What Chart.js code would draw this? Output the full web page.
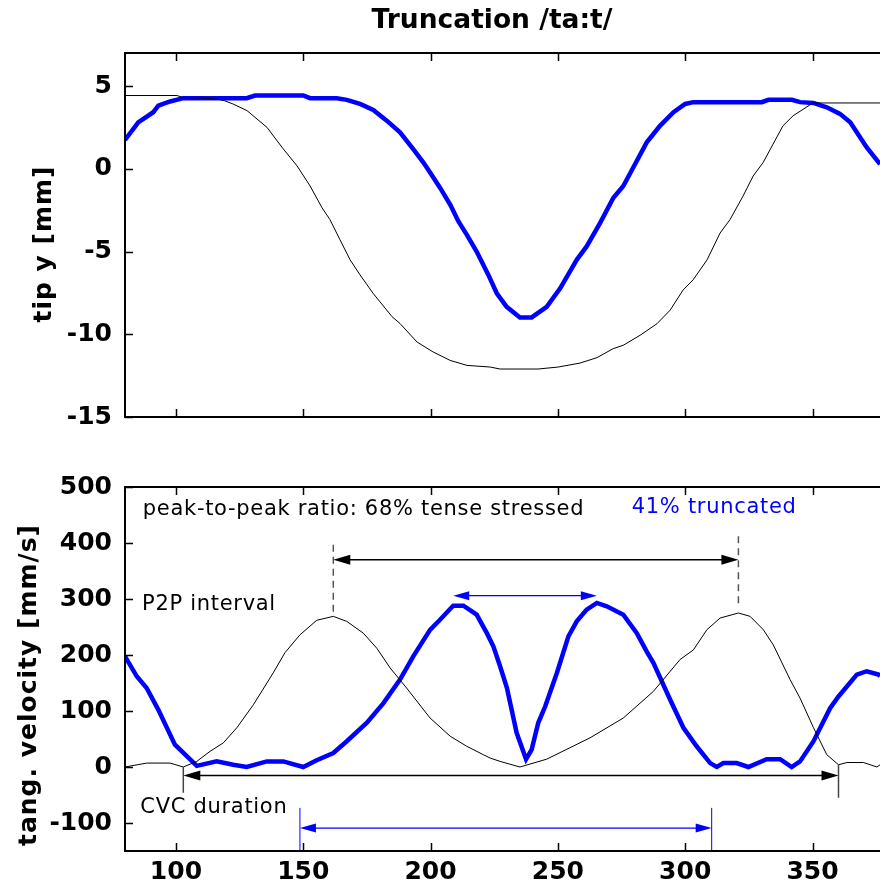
<!DOCTYPE html>
<html>
<head>
<meta charset="utf-8">
<script src="https://cdn.jsdelivr.net/npm/chart.js@4.4.1/dist/chart.umd.min.js"></script>
<style>
  html, body { margin: 0; padding: 0; background: #fff; }
  #wrap { position: relative; width: 880px; height: 890px; }
  canvas { position: absolute; left: 0; }
  #c1 { top: 0; }
  #c2 { top: 440px; }
</style>
</head>
<body>
<div id="wrap">
  <canvas id="c1" width="880" height="440"></canvas>
  <canvas id="c2" width="880" height="450"></canvas>
</div>
<script>
// ---- tick labels ----
const xTicks = [100, 150, 200, 250, 300, 350];
const yTicksTip = [-15, -10, -5, 0, 5];
const yTicksVel = [-100, 0, 100, 200, 300, 400, 500];

// ---- tip y [mm], tense stressed (thin black) ----
const xTipTense = [80, 100.4, 103, 110, 116, 119, 122.4, 127.9, 135.8, 141.7, 147.6, 152.7, 157.4, 160.5, 164.4,
  168.4, 172.3, 177.4, 184.9, 188, 194.7, 201, 207.7, 214.3, 223.4, 227.3, 242.2, 250.1, 258.7, 265.4,
  271.7, 275.6, 282.3, 289, 294.1, 299.2, 303.1, 308.6, 313.7, 317.6, 322.7, 326.7, 330.6, 334.5, 338.4,
  342.4, 350.2, 376.5];
const yTipTense = [4.43, 4.43, 4.3, 4.27, 4.22, 4.12, 3.92, 3.52, 2.5, 1.29, 0.17, -1.04, -2.36, -3.07, -4.28,
  -5.5, -6.41, -7.52, -8.94, -9.35, -10.47, -11.07, -11.58, -11.88, -11.98, -12.1, -12.1, -11.98, -11.74, -11.41,
  -10.87, -10.67, -10.06, -9.35, -8.54, -7.32, -6.71, -5.5, -3.88, -3.07, -1.65, -0.43, 0.38, 1.49, 2.6,
  3.21, 3.98, 3.98];

// ---- tip y [mm], truncated (thick blue) ----
const xTipTrunc = [80, 85.2, 91.1, 93.1, 97.7, 102.9, 127.8, 131.1, 150, 152.7, 163.2, 167.1, 172.3, 177.5,
  182.8, 188, 193.2, 197.2, 201.1, 203.7, 207.7, 210.9, 214.2, 218.1, 222.7, 226, 229.9, 235.1, 239.7,
  245.6, 250.9, 257.4, 261.3, 266.6, 271.8, 275.7, 279.6, 284.9, 290.1, 295.4, 300, 303.2, 330.1, 332.7,
  341.9, 345.1, 350.3, 355.6, 360.8, 364.8, 371.3, 376.5];
const yTipTrunc = [1.75, 2.81, 3.42, 3.82, 4.07, 4.27, 4.27, 4.43, 4.43, 4.27, 4.27, 4.17, 3.92, 3.56,
  2.91, 2.2, 1.19, 0.38, -0.53, -1.14, -2.16, -3.17, -3.98, -5.0, -6.41, -7.52, -8.34, -8.98, -8.98,
  -8.34, -7.22, -5.5, -4.69, -3.27, -1.75, -1.04, 0.08, 1.6, 2.6, 3.42, 3.92, 4.03, 4.03, 4.17,
  4.17, 4.03, 3.98, 3.72, 3.32, 2.81, 1.29, 0.28];

// ---- tang. velocity [mm/s], tense stressed (thin black) ----
const xVelTense = [80, 88.5, 97.7, 102.9, 108.2, 113.4, 118.6, 123.9, 130.4, 138.2, 142.8, 148.7, 155.3, 161.8,
  167.1, 173.6, 178.9, 184.1, 190.6, 199.8, 207.7, 214.2, 220.7, 223.4, 227.3, 235.1, 245.6, 262.6, 275.7,
  287.5, 298, 303.2, 308.5, 313.7, 320.9, 325.5, 330.7, 334.6, 341.2, 345.1, 350.4, 355.6, 360.2, 363.5,
  370, 375.3, 376.5];
const yVelTense = [0, 7, 7, 0, 10, 28, 43, 70, 111, 168, 204, 236, 262, 269,
  260, 239, 212, 177, 141, 87.5, 55, 37, 22, 16, 10, 0, 14, 52, 87.5,
  135, 192, 209, 245, 266, 275, 269, 245, 218, 156, 123, 70, 22, 4, 8,
  8, 0, 4];

// ---- tang. velocity [mm/s], truncated (thick blue) ----
const xVelTrunc = [80, 84.6, 88.5, 93.1, 99.6, 108.2, 116, 122.5, 127.8, 135.7, 142.2, 150, 155.3, 161.8,
  167.1, 175, 181.5, 188, 193.2, 199.8, 203.7, 208.9, 212.9, 218.1, 222.1, 224.7, 227.3, 230, 233.8,
  237.5, 239.7, 242.3, 245, 249.6, 254.1, 257.4, 261.3, 265.3, 269.2, 275.7, 281, 284.9, 287.5, 294.1,
  299.3, 304.5, 309.8, 312.4, 315, 320.2, 324.8, 332, 337.3, 341.8, 345.1, 350.4, 356.9, 360.2, 367.4,
  371.3, 375.9, 376.5];
const yVelTrunc = [197.5, 162, 141, 102, 40, 2, 10, 4, 0, 10, 10, 0, 12, 25,
  46, 79, 114, 156, 197.5, 245, 263, 288, 288, 272, 239, 215, 180, 141, 61,
  14, 31, 79, 108, 168, 233, 260, 281, 293, 287, 272, 239, 206, 186, 120,
  70, 37, 7, 0, 7, 7, 0, 14, 14, 0, 10, 46, 105, 126, 165,
  171, 165, 162];

// ---- annotation values (data units) ----
const p2pTenseX = [161.8, 320.9];
const p2pTenseLevel = 370;
const p2pDashTop = [397, 412];
const p2pDashBottom = [269, 284];
const p2pTruncX = [208.9, 265.3];
const p2pTruncLevel = 306;
const cvcTenseX = [102.9, 360.2];
const cvcTenseLevel = -15;
const cvcTenseTickTop = [0, 4];
const cvcTenseTickBottom = [-46, -55];
const cvcTruncX = [148.7, 310.4];
const cvcTruncLevel = -109;
const cvcTruncTickTop = -73;

const BLUE = '#0000ff';
Chart.defaults.font.family = "'DejaVu Sans', sans-serif";
Chart.defaults.color = '#000';

function pts(xs, ys) {
  return xs.map((x, i) => ({ x: x, y: ys[i] }));
}

// MATLAB-like box with inward ticks, title and y label
const boxPlugin = {
  id: 'box',
  afterDraw(chart, args, opts) {
    const { ctx, chartArea: a, scales: { x, y } } = chart;
    ctx.save();
    ctx.strokeStyle = '#000';
    ctx.lineWidth = 2;
    ctx.beginPath();
    ctx.moveTo(a.right, a.top);
    ctx.lineTo(a.left, a.top);
    ctx.lineTo(a.left, a.bottom);
    ctx.lineTo(a.right, a.bottom);
    ctx.stroke();
    ctx.lineWidth = 1.5;
    ctx.beginPath();
    opts.xTicks.forEach(v => {
      const px = Math.round(x.getPixelForValue(v)) + 0.5;
      ctx.moveTo(px, a.top); ctx.lineTo(px, a.top + 8);
      ctx.moveTo(px, a.bottom); ctx.lineTo(px, a.bottom - 8);
    });
    opts.yTicks.forEach(v => {
      const py = Math.round(y.getPixelForValue(v)) + 0.5;
      ctx.moveTo(a.left, py); ctx.lineTo(a.left + 8, py);
    });
    ctx.stroke();

    ctx.fillStyle = '#000';
    ctx.textAlign = 'center';
    ctx.textBaseline = 'middle';
    ctx.letterSpacing = '1px';
    ctx.font = "bold 25px 'DejaVu Sans'";
    ctx.save();
    ctx.translate(opts.yTitleX, (a.top + a.bottom) / 2 + opts.yTitleShift);
    ctx.rotate(-Math.PI / 2);
    ctx.fillText(opts.yTitle, 0, 0);
    ctx.restore();
    if (opts.title) {
      ctx.letterSpacing = '0px';
      ctx.font = "bold 26.5px 'DejaVu Sans'";
      ctx.fillText(opts.title, a.left + 367, 21);
    }
    ctx.restore();
  }
};

function arrow(ctx, x1, x2, y, color, lw, len, half) {
  ctx.strokeStyle = color;
  ctx.fillStyle = color;
  ctx.lineWidth = lw;
  ctx.beginPath();
  ctx.moveTo(x1 + len / 2, y);
  ctx.lineTo(x2 - len / 2, y);
  ctx.stroke();
  ctx.beginPath();
  ctx.moveTo(x1, y); ctx.lineTo(x1 + len, y - half); ctx.lineTo(x1 + len, y + half); ctx.closePath();
  ctx.moveTo(x2, y); ctx.lineTo(x2 - len, y - half); ctx.lineTo(x2 - len, y + half); ctx.closePath();
  ctx.fill();
}

const notesPlugin = {
  id: 'notes',
  afterDatasetsDraw(chart) {
    const { ctx, scales: { x, y } } = chart;
    const X = v => x.getPixelForValue(v);
    const Y = v => y.getPixelForValue(v);
    ctx.save();

    // dashed markers at the tense peaks
    ctx.strokeStyle = '#555';
    ctx.lineWidth = 1.5;
    ctx.setLineDash([7, 5]);
    ctx.beginPath();
    p2pTenseX.forEach((v, i) => {
      ctx.moveTo(X(v), Y(p2pDashTop[i]));
      ctx.lineTo(X(v), Y(p2pDashBottom[i]));
    });
    ctx.stroke();
    ctx.setLineDash([]);

    // CVC end markers
    ctx.strokeStyle = '#444';
    ctx.lineWidth = 1.5;
    ctx.beginPath();
    cvcTenseX.forEach((v, i) => {
      ctx.moveTo(X(v), Y(cvcTenseTickTop[i]));
      ctx.lineTo(X(v), Y(cvcTenseTickBottom[i]));
    });
    ctx.stroke();
    ctx.strokeStyle = BLUE;
    ctx.lineWidth = 1;
    ctx.beginPath();
    cvcTruncX.forEach(v => {
      ctx.moveTo(X(v), Y(cvcTruncTickTop));
      ctx.lineTo(X(v), chart.chartArea.bottom);
    });
    ctx.stroke();

    arrow(ctx, X(p2pTenseX[0]), X(p2pTenseX[1]), Y(p2pTenseLevel), '#000', 1.5, 17, 5);
    arrow(ctx, X(p2pTruncX[0]), X(p2pTruncX[1]), Y(p2pTruncLevel), BLUE, 1.2, 16, 4.5);
    arrow(ctx, X(cvcTenseX[0]), X(cvcTenseX[1]), Y(cvcTenseLevel), '#000', 1.5, 17, 5);
    arrow(ctx, X(cvcTruncX[0]), X(cvcTruncX[1]), Y(cvcTruncLevel), BLUE, 1.2, 16, 4.5);

    ctx.font = "21px 'DejaVu Sans'";
    ctx.letterSpacing = '0.7px';
    ctx.textAlign = 'left';
    ctx.textBaseline = 'alphabetic';
    ctx.fillStyle = '#000';
    ctx.fillText('peak-to-peak ratio: 68% tense stressed', X(87), Y(450.5));
    ctx.fillText('P2P interval', X(86.7), Y(281));
    ctx.fillText('CVC duration', X(86), Y(-83));
    ctx.fillStyle = BLUE;
    ctx.fillText('41% truncated', X(279), Y(453.6));
    ctx.restore();
  }
};

function yScale(min, max, ticks) {
  return {
    type: 'linear',
    min: min,
    max: max,
    grid: { display: false, drawTicks: false },
    border: { display: false },
    ticks: { font: { size: 25, weight: 'bold' }, padding: 13, color: '#000' },
    afterBuildTicks: s => { s.ticks = ticks.map(v => ({ value: v })); },
    afterFit: s => { s.width = 125; s.paddingTop = 0; s.paddingBottom = 0; }
  };
}

function xScale(showLabels, height) {
  return {
    type: 'linear',
    min: 80,
    max: 376.5,
    grid: { display: false, drawTicks: false },
    border: { display: false },
    ticks: { display: showLabels, font: { size: 25, weight: 'bold' }, padding: 6, maxRotation: 0, color: '#000' },
    afterBuildTicks: s => { s.ticks = xTicks.map(v => ({ value: v })); },
    afterFit: s => { s.height = height; s.paddingLeft = 0; s.paddingRight = 0; }
  };
}

const baseOpts = {
  responsive: false,
  animation: false,
  events: [],
  elements: { point: { radius: 0 }, line: { tension: 0 } }
};

new Chart(document.getElementById('c1'), {
  type: 'line',
  data: {
    datasets: [
      { data: pts(xTipTense, yTipTense), borderColor: '#000', borderWidth: 1 },
      { data: pts(xTipTrunc, yTipTrunc), borderColor: BLUE, borderWidth: 4.5 }
    ]
  },
  options: Object.assign({}, baseOpts, {
    layout: { padding: { left: 0, right: 0, top: 53, bottom: 0 } },
    scales: {
      x: xScale(false, 23),
      y: yScale(-15, 7, yTicksTip)
    },
    plugins: {
      legend: { display: false },
      tooltip: { enabled: false },
      box: { xTicks: xTicks, yTicks: yTicksTip, yTitle: 'tip y [mm]', yTitleX: 44, yTitleShift: 9, title: 'Truncation /ta:t/' }
    }
  }),
  plugins: [boxPlugin]
});

new Chart(document.getElementById('c2'), {
  type: 'line',
  data: {
    datasets: [
      { data: pts(xVelTense, yVelTense), borderColor: '#000', borderWidth: 1 },
      { data: pts(xVelTrunc, yVelTrunc), borderColor: BLUE, borderWidth: 4.5 }
    ]
  },
  options: Object.assign({}, baseOpts, {
    layout: { padding: { left: 0, right: 0, top: 47, bottom: 0 } },
    scales: {
      x: xScale(true, 39),
      y: yScale(-150, 500, yTicksVel)
    },
    plugins: {
      legend: { display: false },
      tooltip: { enabled: false },
      box: { xTicks: xTicks, yTicks: yTicksVel, yTitle: 'tang. velocity [mm/s]', yTitleX: 29, yTitleShift: 16, title: '' }
    }
  }),
  plugins: [boxPlugin, notesPlugin]
});
</script>
</body>
</html>
